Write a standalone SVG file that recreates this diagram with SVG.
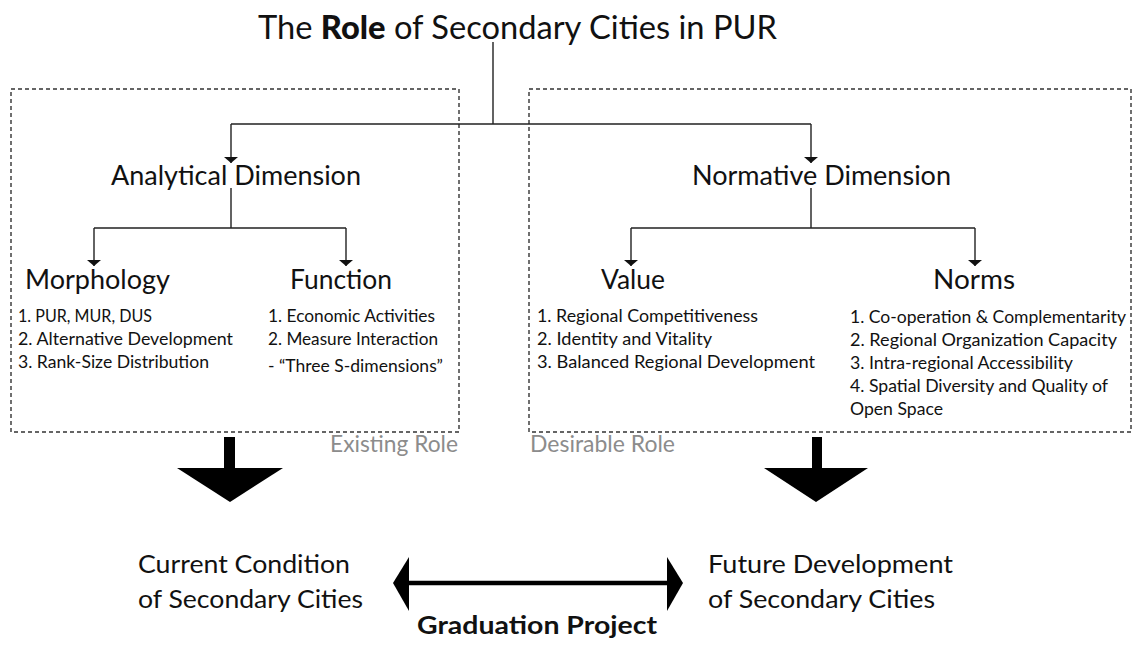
<svg xmlns="http://www.w3.org/2000/svg" width="1135" height="646" viewBox="0 0 1135 646">
<style>
text{font-family:Lato,"Open Sans","Liberation Sans",sans-serif;fill:#111}
.title{font-size:33px}
.dim{font-size:26px}
.sub{font-size:26px}
.li{font-size:17px}
.role{font-size:24px;fill:#8c8c8c}
.big{font-size:25px}
.bold{font-weight:bold}
.heavy{font-weight:900}
.box{fill:none;stroke:#333;stroke-width:1.4;stroke-dasharray:4 3}
.ln{fill:none;stroke:#222;stroke-width:1.4}
</style>
<defs>
<marker id="ah" viewBox="0 0 6 14" refX="6" refY="7" markerWidth="6" markerHeight="14" markerUnits="userSpaceOnUse" orient="auto">
<path d="M0,0 L6,7 L0,14 z" fill="#111"/>
</marker>
</defs>
<rect fill="#fff" x="0" y="0" width="1135" height="646"/>

<g id="title">
<text class="title" x="258" y="39" textLength="519" lengthAdjust="spacingAndGlyphs">The <tspan class="heavy">Role</tspan> of Secondary Cities in PUR</text>
</g>

<g id="existing-box">
<rect class="box" x="11" y="89" width="448" height="343"/>
<text class="role" x="330" y="452" textLength="128" lengthAdjust="spacingAndGlyphs">Existing Role</text>
</g>
<g id="desirable-box">
<rect class="box" x="529" y="89" width="602" height="343"/>
<text class="role" x="530" y="452" textLength="145" lengthAdjust="spacingAndGlyphs">Desirable Role</text>
</g>

<g id="connectors">
<path class="ln" d="M493,42 V124 M231,124 H811"/>
<path class="ln" d="M231,124 V163" marker-end="url(#ah)"/>
<path class="ln" d="M811,124 V163" marker-end="url(#ah)"/>
<path class="ln" d="M231,188 V228 M94,228 H346"/>
<path class="ln" d="M94,228 V266" marker-end="url(#ah)"/>
<path class="ln" d="M346,228 V266" marker-end="url(#ah)"/>
<path class="ln" d="M811,188 V228 M631,228 H975"/>
<path class="ln" d="M631,228 V266" marker-end="url(#ah)"/>
<path class="ln" d="M975,228 V266" marker-end="url(#ah)"/>
<g id="big-arrow-left" fill="#000">
<rect x="224" y="437" width="11" height="32"/>
<polygon points="177,468 283,468 230,502"/>
</g>
<g id="big-arrow-right" fill="#000">
<rect x="812" y="437" width="10" height="32"/>
<polygon points="764,468 868,468 816,502"/>
</g>
<g id="double-arrow" fill="#000">
<path d="M407,583 H669" stroke="#000" stroke-width="4.5"/>
<polygon points="393,583 409,557 409,611"/>
<polygon points="683,583 667,557 667,611"/>
</g>
</g>

<g id="analytical">
<text class="dim" x="111" y="185" textLength="250" lengthAdjust="spacingAndGlyphs">Analytical Dimension</text>
</g>
<g id="normative">
<text class="dim" x="692" y="185" textLength="259" lengthAdjust="spacingAndGlyphs">Normative Dimension</text>
</g>

<g id="morphology">
<text class="sub" x="25" y="289" textLength="145" lengthAdjust="spacingAndGlyphs">Morphology</text>
<text class="li" x="18" y="322" textLength="134" lengthAdjust="spacingAndGlyphs">1. PUR, MUR, DUS</text>
<text class="li" x="18" y="345" textLength="215" lengthAdjust="spacingAndGlyphs">2. Alternative Development</text>
<text class="li" x="18" y="368" textLength="191" lengthAdjust="spacingAndGlyphs">3. Rank-Size Distribution</text>
</g>

<g id="function">
<text class="sub" x="290" y="289" textLength="102" lengthAdjust="spacingAndGlyphs">Function</text>
<text class="li" x="268" y="322" textLength="167" lengthAdjust="spacingAndGlyphs">1. Economic Activities</text>
<text class="li" x="268" y="345" textLength="170" lengthAdjust="spacingAndGlyphs">2. Measure Interaction</text>
<text class="li" x="268" y="372" textLength="175" lengthAdjust="spacingAndGlyphs">- “Three S-dimensions”</text>
</g>

<g id="value">
<text class="sub" x="601" y="289" textLength="64" lengthAdjust="spacingAndGlyphs">Value</text>
<text class="li" x="537" y="322" textLength="221" lengthAdjust="spacingAndGlyphs">1. Regional Competitiveness</text>
<text class="li" x="537" y="345" textLength="175" lengthAdjust="spacingAndGlyphs">2.  Identity and Vitality</text>
<text class="li" x="537" y="368" textLength="278" lengthAdjust="spacingAndGlyphs">3.  Balanced Regional Development</text>
</g>

<g id="norms">
<text class="sub" x="933" y="289" textLength="82" lengthAdjust="spacingAndGlyphs">Norms</text>
<text class="li" x="850" y="323" textLength="276" lengthAdjust="spacingAndGlyphs">1. Co-operation &amp; Complementarity</text>
<text class="li" x="850" y="346" textLength="267" lengthAdjust="spacingAndGlyphs">2.  Regional Organization Capacity</text>
<text class="li" x="850" y="369" textLength="223" lengthAdjust="spacingAndGlyphs">3. Intra-regional Accessibility</text>
<text class="li" x="850" y="392" textLength="258" lengthAdjust="spacingAndGlyphs">4. Spatial Diversity and Quality of</text>
<text class="li" x="850" y="415" textLength="93" lengthAdjust="spacingAndGlyphs">Open Space</text>
</g>

<g id="current">
<text class="big" x="138" y="573" textLength="212" lengthAdjust="spacingAndGlyphs">Current Condition</text>
<text class="big" x="138" y="608" textLength="225" lengthAdjust="spacingAndGlyphs">of Secondary Cities</text>
</g>
<g id="future">
<text class="big" x="708" y="573" textLength="245" lengthAdjust="spacingAndGlyphs">Future Development</text>
<text class="big" x="708" y="608" textLength="227" lengthAdjust="spacingAndGlyphs">of Secondary Cities</text>
</g>
<g id="graduation">
<text class="big bold" x="417" y="634" textLength="240" lengthAdjust="spacingAndGlyphs">Graduation Project</text>
</g>
</svg>
